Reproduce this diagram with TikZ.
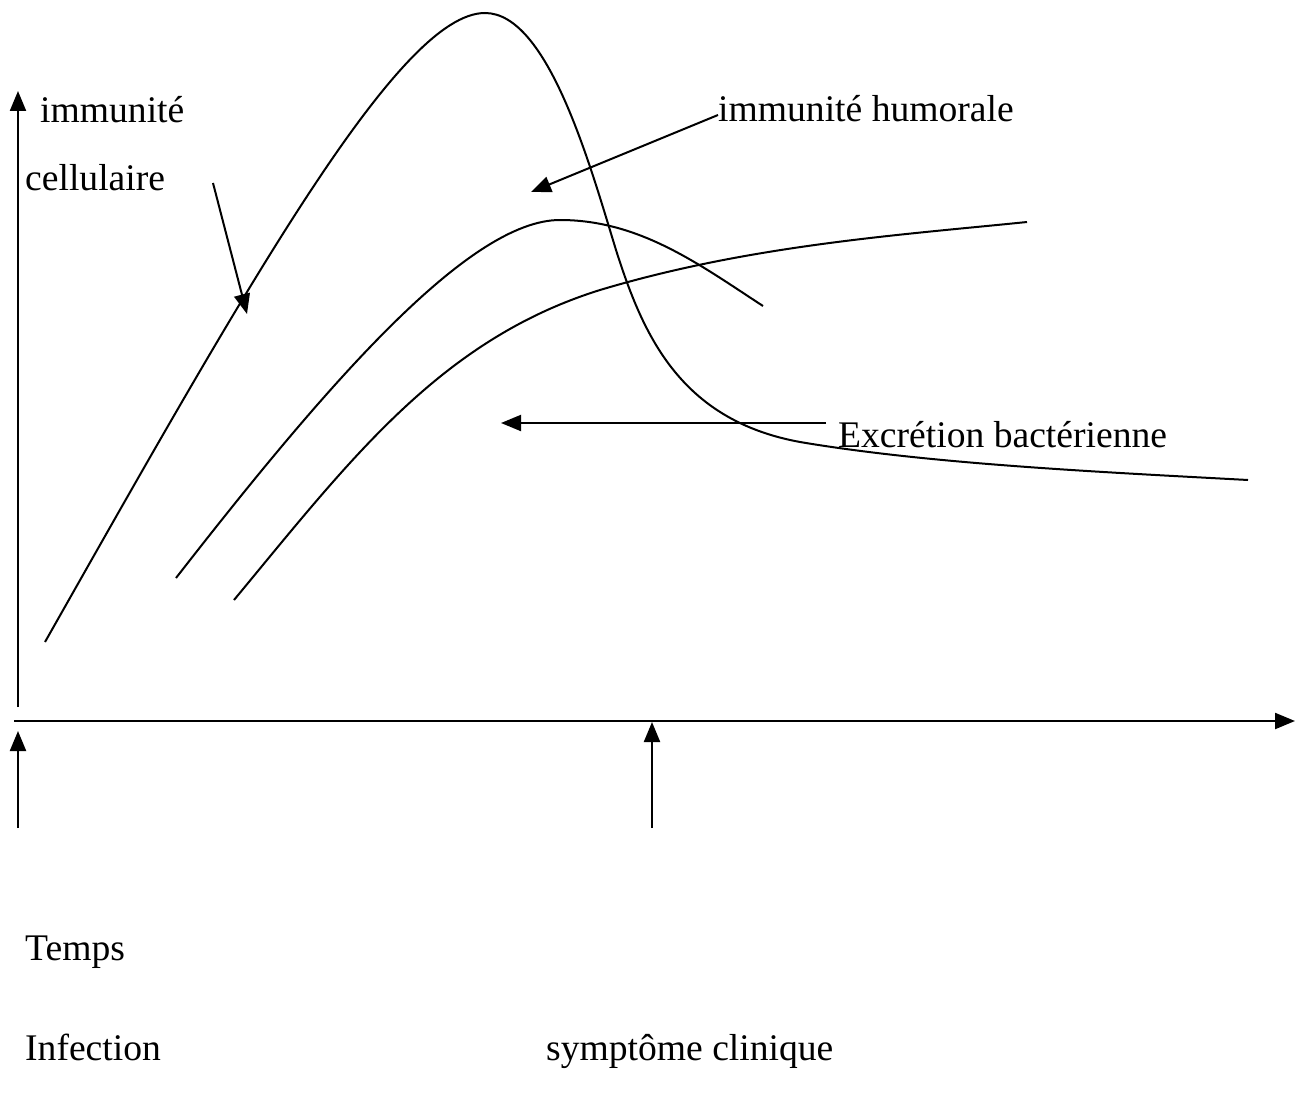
\documentclass[tikz,border=0pt]{standalone}
\usepackage{fontspec}
\setmainfont{Liberation Serif}
\usetikzlibrary{arrows.meta}
\begin{document}
\begin{tikzpicture}[x=1pt,y=-1pt,
  lbl/.style={anchor=base west,inner sep=0pt,font=\fontsize{37.6}{44}\selectfont},
  curve/.style={line width=2pt,line join=round},
  axis/.style={line width=2.2pt,-{Triangle[length=20pt,width=16pt]}},
  pointer/.style={line width=2pt,-{Triangle[length=20pt,width=16pt]}}]
\useasboundingbox (0,0) rectangle (1301,1097);
% axes
\coordinate (yb) at (18,707);
\coordinate (yt) at (18,91);
\coordinate (xl) at (14,721);
\coordinate (xr) at (1295,721);
\draw[axis] (yb) -- (yt);
\draw[axis] (xl) -- (xr);
% event arrows
\coordinate (infb) at (18,828);
\coordinate (inft) at (18,731);
\coordinate (symb) at (652,828);
\coordinate (symt) at (652,722);
\draw[axis] (infb) -- (inft);
\draw[axis] (symb) -- (symt);
% curve 1: cellular immunity
\draw[curve] (45,642) .. controls (250,280) and (400,13) .. (485,13)
  .. controls (548,13) and (590,165) .. (616,250)
  .. controls (643,335) and (680,420) .. (800,442)
  .. controls (930,464) and (1100,472) .. (1248,480);
% curve 2: humoral immunity
\draw[curve] (176,578) .. controls (330,380) and (470,220) .. (560,220)
  .. controls (640,220) and (700,265) .. (763,306);
% curve 3
\draw[curve] (234,600) .. controls (350,460) and (440,340) .. (600,290)
  .. controls (750,245) and (900,235) .. (1027,222);
% labels
\node[lbl] (imm) at (40,123) {immunité};
\node[lbl] (cell) at (25,190) {cellulaire};
\node[lbl] (hum) at (718,122) {immunité humorale};
\node[lbl] (exc) at (838,447) {Excrétion bactérienne};
\node[lbl] (tps) at (25,960) {Temps};
\node[lbl] (inf) at (25,1060) {Infection};
\node[lbl] (sym) at (546,1060) {symptôme clinique};
% pointers
\coordinate (c1) at (213,183);
\coordinate (c2) at (247,314);
\coordinate (h1) at (718,115);
\coordinate (h2) at (531,192);
\coordinate (e1) at (826,423);
\coordinate (e2) at (501,423);
\draw[pointer] (c1) -- (c2);
\draw[pointer] (h1) -- (h2);
\draw[pointer] (e1) -- (e2);
\end{tikzpicture}
\end{document}
